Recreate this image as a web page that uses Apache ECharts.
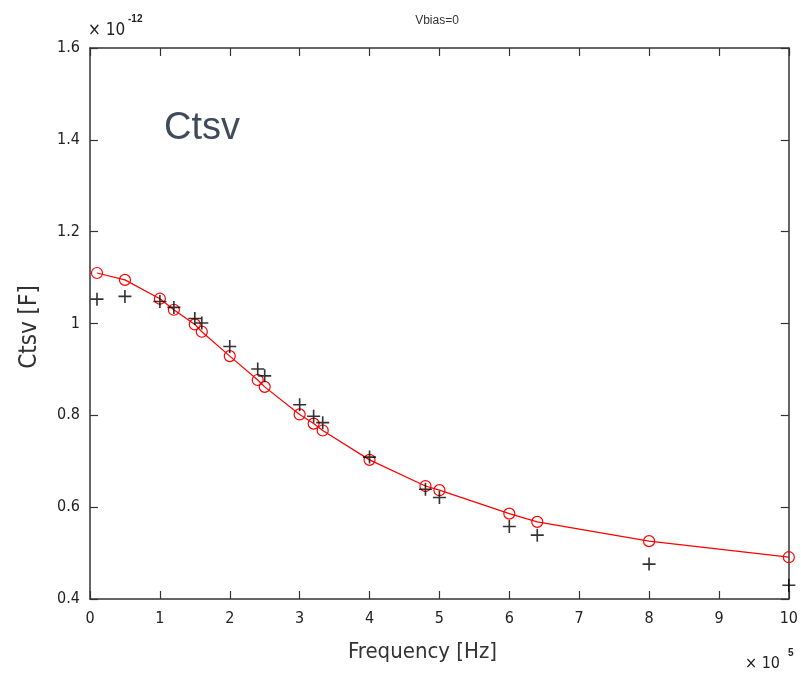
<!DOCTYPE html>
<html><head><meta charset="utf-8">
<script src="https://cdn.jsdelivr.net/npm/echarts@6/dist/echarts.min.js"></script>
<style>html,body{margin:0;padding:0;background:#fff}#c{width:801px;height:676px}</style>
</head><body><div id="c"></div>
<script>
// x in units of 1e5 Hz, y in units of 1e-12 F
const fitX = [0.1, 0.5, 1.0, 1.2, 1.5, 1.6, 2.0, 2.4, 2.5, 3.0, 3.2, 3.33, 4.0, 4.8, 5.0, 6.0, 6.4, 8.0, 10.0];
const fitY = [1.110, 1.095, 1.054, 1.030, 0.998, 0.982, 0.929, 0.877, 0.862, 0.802, 0.782, 0.767, 0.703, 0.646, 0.637, 0.586, 0.568, 0.526, 0.491];
const measX = [0.1, 0.5, 1.0, 1.2, 1.5, 1.6, 2.0, 2.4, 2.5, 3.0, 3.2, 3.33, 4.0, 4.8, 5.0, 6.0, 6.4, 8.0, 10.0];
const measY = [1.053, 1.059, 1.048, 1.035, 1.011, 1.001, 0.950, 0.901, 0.886, 0.823, 0.798, 0.784, 0.709, 0.639, 0.621, 0.558, 0.539, 0.476, 0.430];
const xTicks = [0,1,2,3,4,5,6,7,8,9,10];
const yTicks = [0.4,0.6,0.8,1.0,1.2,1.4,1.6];
const titleText = 'Vbias=0';
const xName = 'Frequency [Hz]';
const yName = 'Ctsv [F]';
const labelText = 'Ctsv';

const tickFont = '"Liberation Sans Narrow","DejaVu Sans Condensed","Liberation Sans",sans-serif';
const axisLine = () => ({show:true, onZero:false, lineStyle:{color:'#333', width:1.5}});
const tick = () => ({show:true, inside:true, length:8, lineStyle:{color:'#333', width:1.2}});
const plus = 'path://M7,0h2v16h-2z M0,7h16v2h-16z';

const chart = echarts.init(document.getElementById('c'), null, {renderer:'canvas'});
chart.setOption({
  animation:false,
  backgroundColor:'#fff',
  title:{text:titleText, left:432, top:10, textAlign:'center',
    textStyle:{fontSize:12, fontWeight:'normal', color:'#333', fontFamily:'Liberation Sans, sans-serif'}},
  grid:{left:90, right:8, top:48, bottom:77, containLabel:false},
  xAxis:[{type:'value', min:0, max:10, interval:1, position:'bottom',
      axisLine:axisLine(), axisTick:tick(),
      axisLabel:{formatter:v=>xTicks.includes(v)?String(v):'', fontSize:16, color:'#222', margin:12, fontFamily:tickFont},
      splitLine:{show:false}},
    {type:'value', min:0, max:10, interval:1, position:'top',
      axisLine:axisLine(), axisTick:tick(),
      axisLabel:{show:false}, splitLine:{show:false}}],
  yAxis:[{type:'value', min:0.4, max:1.6, interval:0.2, position:'left',
      axisLine:axisLine(), axisTick:tick(),
      axisLabel:{formatter:v=>{const t=yTicks.find(a=>Math.abs(a-v)<1e-6);return t===undefined?'':(t===1?'1':t.toFixed(1));},
        fontSize:16, color:'#222', margin:10, fontFamily:tickFont},
      splitLine:{show:false}},
    {type:'value', min:0.4, max:1.6, interval:0.2, position:'right',
      axisLine:axisLine(), axisTick:tick(),
      axisLabel:{show:false}, splitLine:{show:false}}],
  graphic:[
    {type:'text', left:88, top:22, style:{text:'× 10', fill:'#222', font:'17px '+tickFont}},
    {type:'text', left:128, top:14, style:{text:'-12', fill:'#222', font:'bold 10px Liberation Sans, sans-serif'}},
    {type:'text', left:164, top:110, style:{text:labelText, fill:'#3f4b5b', font:'38px "Liberation Sans", Arial, sans-serif'}},
    {type:'text', left:348, top:641, style:{text:xName, fill:'#333', font:'22px '+tickFont}},
    {type:'text', left:745, top:656, style:{text:'× 10', fill:'#222', font:'16px '+tickFont}},
    {type:'text', left:788, top:648, style:{text:'5', fill:'#222', font:'bold 10px Liberation Sans, sans-serif'}},
    {type:'text', x:30, y:327, rotation:Math.PI/2, style:{text:yName, fill:'#333', font:'24px '+tickFont, align:'center', verticalAlign:'middle'}, originX:0, originY:0}
  ],
  series:[
    {type:'line', data:fitX.map((x,i)=>[x,fitY[i]]), symbol:'circle', symbolSize:11,
      lineStyle:{color:'#ff0000', width:1.2}, itemStyle:{color:'rgba(255,255,255,0)', borderColor:'#ff0000', borderWidth:1.2}, z:3},
    {type:'scatter', data:measX.map((x,i)=>[x,measY[i]]), symbol:plus, symbolSize:13,
      itemStyle:{color:'#000'}, z:4}
  ]
});
</script></body></html>
